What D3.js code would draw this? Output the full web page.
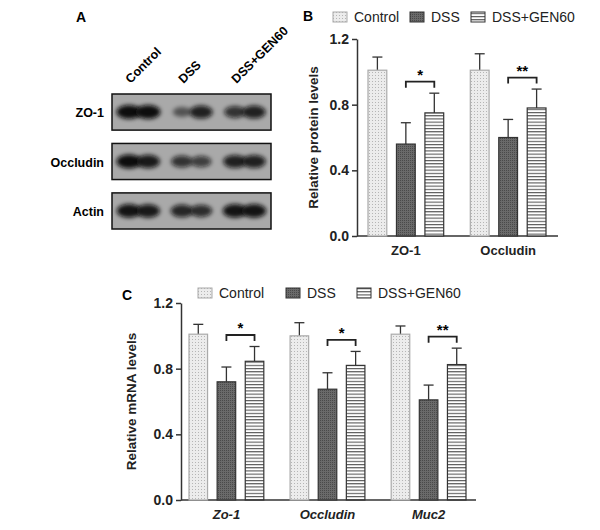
<!DOCTYPE html>
<html><head><meta charset="utf-8">
<script src="https://cdn.jsdelivr.net/npm/d3@7"></script>
<style>body{margin:0;background:#fff}text{font-family:"Liberation Sans",Arial,sans-serif}</style>
</head><body><svg id="c" width="600" height="530"></svg>
<script>
const groups = ["Control","DSS","DSS+GEN60"];
const proteinCats = ["ZO-1","Occludin"];
const proteinMean = [[1.01,0.56,0.75],[1.01,0.60,0.78]];
const proteinErr  = [[0.08,0.13,0.12],[0.10,0.11,0.115]];
const proteinSig  = ["*","**"];
const mrnaCats = ["Zo-1","Occludin","Muc2"];
const mrnaMean = [[1.01,0.72,0.845],[1.00,0.675,0.82],[1.01,0.61,0.825]];
const mrnaErr  = [[0.06,0.09,0.09],[0.08,0.10,0.085],[0.05,0.09,0.10]];
const mrnaSig  = ["*","*","**"];
const yTicks = [0,0.4,0.8,1.2];
const blotRows = ["ZO-1","Occludin","Actin"];
const blotBands = [[[1,1],[0.35,0.85],[0.7,0.85]],[[1,0.9],[0.7,0.6],[0.85,0.85]],[[0.95,0.9],[0.8,0.75],[0.95,0.95]]];

const svg = d3.select("#c");
const defs = svg.append("defs");
let p = defs.append("pattern").attr("id","pCtl").attr("patternUnits","userSpaceOnUse").attr("width",3).attr("height",3);
p.append("rect").attr("width",3).attr("height",3).attr("fill","#ececec");
p.append("rect").attr("width",1).attr("height",1).attr("fill","#b5b5b5");
p = defs.append("pattern").attr("id","pDss").attr("patternUnits","userSpaceOnUse").attr("width",2).attr("height",2);
p.append("rect").attr("width",2).attr("height",2).attr("fill","#6a6a6a");
p.append("rect").attr("width",1).attr("height",1).attr("fill","#4a4a4a");
p = defs.append("pattern").attr("id","pGen").attr("patternUnits","userSpaceOnUse").attr("width",4).attr("height",3.2);
p.append("rect").attr("width",4).attr("height",3.2).attr("fill","#fff");
p.append("rect").attr("y",0).attr("width",4).attr("height",1.1).attr("fill","#555");
const fills = ["url(#pCtl)","url(#pDss)","url(#pGen)"];
const strokes = ["#aaa","#333","#333"];
defs.append("filter").attr("id","blur").attr("x","-50%").attr("y","-100%").attr("width","200%").attr("height","300%")
  .append("feGaussianBlur").attr("stdDeviation",2.2);

function barPanel(o){
  const g = svg.append("g");
  const y = d3.scaleLinear().domain([0,1.2]).range([o.y0,o.y1]);
  const xg = d3.scaleBand().domain(o.cats).range([o.bx0,o.bx1]).paddingInner(0.26).paddingOuter(0);
  const xb = d3.scaleBand().domain(groups).range([0,xg.bandwidth()]).paddingInner(0.34);
  const ax = g.append("g").attr("transform",`translate(${o.x0},0)`).call(d3.axisLeft(y).tickValues(yTicks).tickFormat(d3.format(".1f")).tickSize(5).tickSizeOuter(0));
  ax.selectAll("text").attr("font-size",14).attr("font-weight","bold").attr("fill","#222");
  ax.selectAll("line,path").attr("stroke","#333").attr("stroke-width",1.5);
  const xa = g.append("g").attr("transform",`translate(0,${o.y0})`).call(d3.axisBottom(xg).tickSize(0));
  xa.select("path").attr("d",`M${o.x0},0H${o.xEnd}`).attr("stroke","#333").attr("stroke-width",1.5);
  xa.selectAll("text").attr("font-size",13).attr("font-weight","bold").attr("fill","#222").attr("dy","1.2em").attr("font-style",o.italic?"italic":"normal");
  o.cats.forEach((c,i)=>{
    groups.forEach((gr,j)=>{
      const bx = xg(c)+xb(gr), w = xb.bandwidth(), v=o.mean[i][j], e=o.err[i][j];
      g.append("line").attr("x1",bx+w/2).attr("x2",bx+w/2).attr("y1",y(v)).attr("y2",y(v+e)).attr("stroke","#333").attr("stroke-width",1.3);
      g.append("line").attr("x1",bx+w/2-5).attr("x2",bx+w/2+5).attr("y1",y(v+e)).attr("y2",y(v+e)).attr("stroke","#333").attr("stroke-width",1.3);
      g.append("rect").attr("x",bx).attr("y",y(v)).attr("width",w).attr("height",o.y0-y(v)).attr("fill",fills[j]).attr("stroke",strokes[j]).attr("stroke-width",1.2);
    });
    const a = xg(c)+xb("DSS")+xb.bandwidth()/2, b = xg(c)+xb("DSS+GEN60")+xb.bandwidth()/2;
    const top = Math.max(o.mean[i][1]+o.err[i][1], o.mean[i][2]+o.err[i][2]);
    const yb = y(top+0.07);
    g.append("path").attr("d",`M${a},${yb+6}V${yb}H${b}V${yb+6}`).attr("fill","none").attr("stroke","#222").attr("stroke-width",1.8);
    g.append("text").attr("x",(a+b)/2).attr("y",yb-2).attr("text-anchor","middle").attr("font-size",15).attr("font-weight","bold").text(o.sig[i]);
  });
  g.append("text").attr("transform",`translate(${o.labX},${(o.y0+o.y1)/2}) rotate(-90)`).attr("text-anchor","middle").attr("font-size",13.5).attr("font-weight","bold").attr("fill","#222").text(o.ylab);
  o.leg.forEach((lx,j)=>{
    g.append("rect").attr("x",lx).attr("y",o.legY-5).attr("width",14).attr("height",10).attr("fill",fills[j]).attr("stroke",strokes[j]);
    g.append("text").attr("x",lx+21).attr("y",o.legY+5).attr("font-size",14).attr("fill","#222").text(groups[j]);
  });
  svg.append("text").attr("x",o.letX).attr("y",o.letY).attr("font-size",14).attr("font-weight","bold").text(o.letter);
}
barPanel({cats:proteinCats,mean:proteinMean,err:proteinErr,sig:proteinSig,x0:357,bx0:368,bx1:546,xEnd:558,y0:236,y1:39,
  ylab:"Relative protein levels",labX:318,leg:[333,410,471],legY:17,letter:"B",letX:303,letY:21});
barPanel({cats:mrnaCats,mean:mrnaMean,err:mrnaErr,sig:mrnaSig,x0:181,bx0:189,bx1:466,xEnd:476,y0:500,y1:303,italic:true,
  ylab:"Relative mRNA levels",labX:136,leg:[198,286,357],legY:293,letter:"C",letX:122,letY:300});

svg.append("text").attr("x",76).attr("y",22).attr("font-size",14).attr("font-weight","bold").text("A");
const bx0=112, bx1=271;
const lane = d3.scaleBand().domain(groups).range([bx0,bx1]).paddingInner(0.1).paddingOuter(0.05);
const rowY = d3.scaleBand().domain(blotRows).range([94,229]).paddingInner(0.27);
groups.forEach((gr,j)=>{
  const cx = lane(gr)+lane.bandwidth()/2;
  svg.append("text").attr("transform",`translate(${cx-8},${84}) rotate(-45)`).attr("font-size",12.5).attr("font-weight","bold").text(gr);
});
blotRows.forEach((r,i)=>{
  const yy=rowY(r), h=rowY.bandwidth();
  svg.append("rect").attr("x",bx0).attr("y",yy).attr("width",bx1-bx0).attr("height",h).attr("fill","#a9a9a9").attr("stroke","#111").attr("stroke-width",1.5);
  svg.append("text").attr("x",104).attr("y",yy+h/2+5).attr("text-anchor","end").attr("font-size",12.5).attr("font-weight","bold").text(r);
  groups.forEach((gr,j)=>{
    const lx=lane(gr), w=lane.bandwidth();
    blotBands[i][j].forEach((v,k)=>{
      svg.append("ellipse").attr("cx",lx+w*(0.3+0.4*k)).attr("cy",yy+h/2).attr("rx",w*0.26*(0.6+0.4*v)).attr("ry",4+3*v)
        .attr("fill",`rgba(10,10,10,${0.25+0.75*v})`).attr("filter","url(#blur)");
    });
  });
});
</script></body></html>
